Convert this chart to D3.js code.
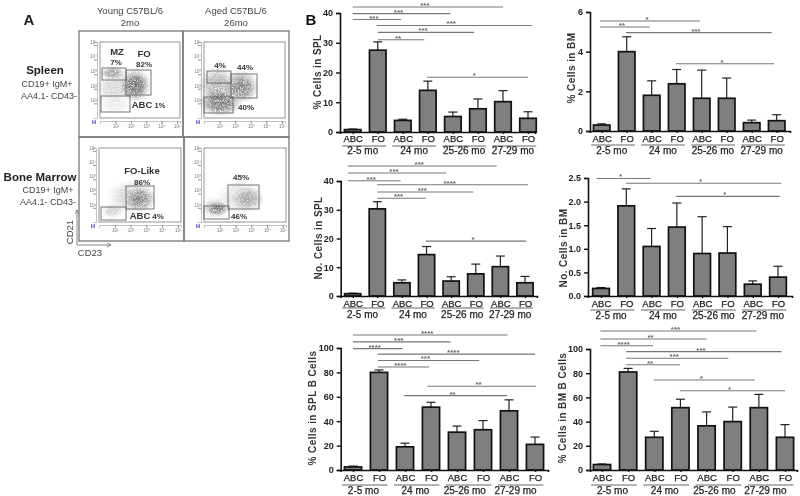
<!DOCTYPE html>
<html>
<head>
<meta charset="utf-8">
<script src="https://d3js.org/d3.v7.min.js"></script>
<style>
  html, body { margin: 0; padding: 0; background: #fff; }
  svg { display: block; filter: blur(0.5px); font-family: "Liberation Sans", Arial, sans-serif; }
</style>
</head>
<body>
<svg id="figure" width="800" height="496"></svg>
<script>
// bar data
var cellTypes = ["ABC", "FO", "ABC", "FO", "ABC", "FO", "ABC", "FO"];
var ageGroups = ["2-5 mo", "24 mo", "25-26 mo", "27-29 mo"];

var pctSpl = [0.8, 27.5, 3.9, 14, 5.2, 7.8, 10.2, 4.6];
var pctSplTop = [1, 30.3, 4.3, 17.1, 6.7, 11.1, 13.9, 6.8];
var pctBm = [0.3, 4, 1.8, 2.38, 1.65, 1.65, 0.42, 0.52];
var pctBmTop = [0.36, 4.75, 2.53, 3.1, 3.07, 2.67, 0.55, 0.82];
var noSpl = [0.8, 30.3, 4.6, 14.4, 5.2, 7.7, 10.2, 4.6];
var noSplTop = [1, 32.8, 5.6, 17.2, 6.7, 11.1, 13.9, 6.8];
var noBm = [0.16, 1.91, 1.05, 1.46, 0.9, 0.91, 0.25, 0.4];
var noBmTop = [0.18, 2.27, 1.43, 1.97, 1.68, 1.47, 0.32, 0.63];
var pctSplB = [2.5, 80, 19, 51.5, 31, 33, 48.5, 21];
var pctSplBTop = [3.2, 82, 22, 55.5, 36, 40.5, 57.5, 27];
var pctBmB = [4.5, 81, 27, 51.5, 36.5, 40, 51.5, 27];
var pctBmBTop = [5, 84, 32, 58.5, 48, 52, 62.5, 37.5];

// significance lines: [from bar, to bar, level in axis units, stars]
var pctSplSig = [[0, 6, 42, "***"], [0, 3.9, 39.8, "***"], [0, 1.93, 37.8, "***"], [0.96, 7.15, 35.8, "***"], [1, 4.85, 33.5, "***"], [1, 2.86, 31, "**"], [2.96, 7, 18.4, "*"]];
var pctBmSig = [[-0.07, 3.93, 5.55, "*"], [-0.07, 1.93, 5.24, "**"], [0.97, 6.8, 4.96, "***"], [2.97, 6.9, 3.39, "*"]];
var noSplSig = [[-0.2, 5.85, 45.2, "***"], [-0.2, 3.8, 42.8, "***"], [-0.2, 1.95, 40.1, "***"], [1, 7.12, 38.7, "****"], [1, 4.9, 36.2, "***"], [1, 2.97, 34, "***"], [2.97, 7.05, 19.1, "*"]];
var noBmSig = [[-0.17, 1.96, 2.49, "*"], [0.99, 7.13, 2.39, "*"], [2.96, 7.07, 2.11, "*"]];
var pctSplBSig = [[0, 5.94, 110.7, "****"], [0, 3.75, 105, "***"], [0, 1.9, 99.5, "****"], [0.95, 7, 95, "****"], [0.95, 4.85, 89.8, "***"], [0.95, 2.93, 84.4, "****"], [2.86, 7.03, 68.6, "**"], [1.96, 5.93, 61, "**"]];
var pctBmBSig = [[-0.06, 5.91, 114.9, "***"], [-0.06, 4, 108.3, "**"], [-0.06, 1.95, 102.7, "****"], [0.93, 6.87, 97.8, "***"], [0.93, 4.83, 92.3, "***"], [0.93, 2.98, 87, "**"], [1.98, 5.85, 74.4, "*"], [2.98, 7, 65.5, "*"]];

// flow plot populations: [x, y, rx, ry, darkness], all as fractions of the plot
var spleenYoung = [[0.19, 0.39, 0.26, 0.2, 0.3], [0.19, 0.17, 0.22, 0.12, 0.14], [0.16, 0.59, 0.17, 0.09, 0.65], [0.44, 0.43, 0.2, 0.22, 1]];
var spleenAged = [[0.17, 0.43, 0.25, 0.26, 0.55], [0.2, 0.2, 0.27, 0.18, 0.95], [0.46, 0.41, 0.22, 0.22, 0.85]];
var marrowYoung = [[0.4, 0.34, 0.32, 0.24, 0.32], [0.5, 0.31, 0.2, 0.17, 0.75], [0.16, 0.15, 0.14, 0.1, 0.35]];
var marrowAged = [[0.44, 0.34, 0.3, 0.24, 0.25], [0.54, 0.31, 0.2, 0.17, 0.5], [0.13, 0.19, 0.2, 0.16, 0.3], [0.16, 0.18, 0.14, 0.1, 0.85]];
var flowTickLabels = ["", "10\u00b9", "10\u00b2", "10\u00b3", "10\u2074", "10\u2075"];

var svg = d3.select("#figure");
var defs = svg.append("defs");

var grad = defs.append("radialGradient").attr("id", "cloud");
grad.append("stop").attr("offset", "0%").attr("stop-color", "#666").attr("stop-opacity", 1);
grad.append("stop").attr("offset", "50%").attr("stop-color", "#707070").attr("stop-opacity", 0.8);
grad.append("stop").attr("offset", "100%").attr("stop-color", "#999").attr("stop-opacity", 0);

// speckle so the clouds look like dots and not smooth blobs
var speckle = defs.append("filter").attr("id", "speckle")
    .attr("x", "-10%").attr("y", "-10%").attr("width", "120%").attr("height", "120%");
speckle.append("feTurbulence").attr("type", "fractalNoise").attr("baseFrequency", 1.4)
    .attr("numOctaves", 2).attr("seed", 4).attr("result", "noise");
speckle.append("feColorMatrix").attr("in", "noise").attr("type", "matrix")
    .attr("values", "0 0 0 0 0  0 0 0 0 0  0 0 0 0 0  0 0 0 2.6 -0.45").attr("result", "dots");
speckle.append("feComposite").attr("in", "SourceGraphic").attr("in2", "dots").attr("operator", "in");

function plotText(g, txt, x, y, size, weight, anchor, color) {
  return g.append("text").attr("x", x).attr("y", y)
      .attr("font-size", size).attr("font-weight", weight || "normal")
      .attr("text-anchor", anchor || "middle").attr("fill", color || "#333").text(txt);
}

// ---------- panel A ----------
var panelA = svg.append("g");

plotText(panelA, "A", 29, 25, 15, "bold", "middle", "#222");
plotText(panelA, "Young C57BL/6", 130, 14, 9.5, "normal", "middle", "#444");
plotText(panelA, "2mo", 130, 26, 9.5, "normal", "middle", "#444");
plotText(panelA, "Aged C57BL/6", 236, 14, 9.5, "normal", "middle", "#444");
plotText(panelA, "26mo", 236, 26, 9.5, "normal", "middle", "#444");

plotText(panelA, "Spleen", 45, 74, 11.5, "bold", "middle", "#222");
plotText(panelA, "CD19+ IgM+", 47, 87, 9, "normal", "middle", "#444");
plotText(panelA, "AA4.1- CD43-", 49, 99, 9, "normal", "middle", "#444");
plotText(panelA, "Bone Marrow", 40, 181, 11.5, "bold", "middle", "#222");
plotText(panelA, "CD19+ IgM+", 48, 193, 9, "normal", "middle", "#444");
plotText(panelA, "AA4.1- CD43-", 48, 205, 9, "normal", "middle", "#444");

// outer frames
[[79, 31, 104, 106], [183, 31, 106, 106], [79, 137, 105, 104], [184, 137, 105, 104]].forEach(function(f) {
  panelA.append("rect").attr("x", f[0]).attr("y", f[1]).attr("width", f[2]).attr("height", f[3])
      .attr("fill", "none").attr("stroke", "#777").attr("stroke-width", 1.3);
});

function flowPlot(box, blobs, gates, labels) {
  var g = panelA.append("g");
  var fx = d3.scaleLinear().domain([0, 1]).range([box[0], box[2]]);
  var fy = d3.scaleLinear().domain([0, 1]).range([box[3], box[1]]);
  var lx = d3.scaleLinear().domain([0, 5.2]).range([box[0], box[2]]);
  var ly = d3.scaleLinear().domain([0, 5.2]).range([box[3], box[1]]);

  g.append("g").attr("filter", "url(#speckle)")
    .selectAll("ellipse")
    .data(blobs)
    .enter().append("ellipse")
      .attr("cx", function(d) { return fx(d[0]); })
      .attr("cy", function(d) { return fy(d[1]); })
      .attr("rx", function(d) { return fx(d[2]) - fx(0); })
      .attr("ry", function(d) { return fy(0) - fy(d[3]); })
      .attr("fill", "url(#cloud)")
      .attr("opacity", function(d) { return d[4]; });

  g.append("rect").attr("x", box[0]).attr("y", box[1])
      .attr("width", box[2] - box[0]).attr("height", box[3] - box[1])
      .attr("fill", "none").attr("stroke", "#888").attr("stroke-width", 0.9);

  g.selectAll(".gate")
    .data(gates)
    .enter().append("rect")
      .attr("x", function(d) { return d[0]; }).attr("y", function(d) { return d[1]; })
      .attr("width", function(d) { return d[2] - d[0]; }).attr("height", function(d) { return d[3] - d[1]; })
      .attr("fill", "none").attr("stroke", "#666").attr("stroke-width", 0.9);

  var left = g.append("g").attr("transform", "translate(" + (box[0] - 3) + ",0)")
      .call(d3.axisLeft(ly).tickValues([1, 2, 3, 4, 5]).tickSize(3).tickFormat(function(d) { return flowTickLabels[d]; }));
  var bottom = g.append("g").attr("transform", "translate(0," + (box[3] + 3) + ")")
      .call(d3.axisBottom(lx).tickValues([1, 2, 3, 4, 5]).tickSize(3).tickFormat(function(d) { return flowTickLabels[d]; }));
  [left, bottom].forEach(function(a) {
    a.selectAll("path").attr("stroke", "#999").attr("stroke-width", 0.6);
    a.selectAll("line").attr("stroke", "#777").attr("stroke-width", 0.8);
    a.selectAll("text").attr("font-size", 4.5).attr("fill", "#777").attr("font-family", "Liberation Sans");
  });
  left.selectAll("text").attr("x", -2).attr("transform", "translate(2,-3)");
  bottom.selectAll("text").attr("y", 4);

  // little blue corner mark of the gating software
  g.append("text").attr("x", box[0] - 6).attr("y", box[3] + 5.5).attr("font-size", 5.5)
      .attr("font-weight", "bold").attr("fill", "#2a2ac0").attr("text-anchor", "middle").text("H");

  labels.forEach(function(l) {
    plotText(g, l[0], l[1], l[2], l[3], l[4], "middle", "#333");
  });
}

flowPlot([100, 42, 180, 118], spleenYoung,
  [[102, 68, 126, 80], [126, 70, 151, 95], [101, 96, 130, 112]],
  [["MZ", 117, 55, 9.5, "bold"], ["7%", 116, 65, 8, "bold"], ["FO", 144, 57, 9.5, "bold"], ["82%", 144, 67, 8, "bold"],
   ["ABC", 142, 108, 9.5, "bold"], ["1%", 160, 108, 7.5, "bold"]]);
flowPlot([204, 42, 285, 118], spleenAged,
  [[207, 71, 231, 83], [231, 74, 257, 98], [204, 97, 233, 113]],
  [["4%", 220, 68, 8, "bold"], ["44%", 245, 70, 8, "bold"], ["40%", 246, 110, 8, "bold"]]);
flowPlot([99, 148, 181, 222], marrowYoung,
  [[126, 186, 154, 209], [101, 207, 126, 220]],
  [["FO-Like", 142, 174, 9.5, "bold"], ["86%", 142, 185, 8, "bold"], ["ABC", 140, 219, 9.5, "bold"], ["4%", 158, 219, 8, "bold"]]);
flowPlot([204, 148, 286, 222], marrowAged,
  [[228, 185, 259, 209], [204, 206, 229, 219]],
  [["45%", 241, 180, 8, "bold"], ["46%", 239, 219, 8, "bold"]]);

// CD21 / CD23 arrows
defs.append("marker").attr("id", "tip").attr("markerWidth", 5).attr("markerHeight", 5)
    .attr("refX", 4).attr("refY", 2.5).attr("orient", "auto")
  .append("path").attr("d", "M0,0.5L4,2.5L0,4.5").attr("fill", "none").attr("stroke", "#777").attr("stroke-width", 0.8);
panelA.append("path").attr("d", "M77,245V210").attr("stroke", "#888").attr("marker-end", "url(#tip)");
panelA.append("path").attr("d", "M77,245H111").attr("stroke", "#888").attr("marker-end", "url(#tip)");
plotText(panelA, "CD23", 90, 256, 9.5, "normal", "middle", "#444");
plotText(panelA, "CD21", 0, 0, 9.5, "normal", "middle", "#444")
    .attr("transform", "translate(73,232) rotate(-90)");

// ---------- panel B ----------
plotText(svg, "B", 311, 25, 15, "bold", "middle", "#111");

function barPanel(p) {
  var g = svg.append("g");
  var y = d3.scaleLinear().domain([0, p.max]).range([p.bottom, p.top]);
  var x = d3.scaleLinear().domain([0, 7]).range([p.x0, p.x7]);

  // significance lines
  var sig = g.append("g").selectAll("g")
    .data(p.sig)
    .enter().append("g");
  sig.append("line")
      .attr("x1", function(d) { return x(d[0]); })
      .attr("x2", function(d) { return x(d[1]); })
      .attr("y1", function(d) { return y(d[2]); })
      .attr("y2", function(d) { return y(d[2]); })
      .attr("stroke", "#777").attr("stroke-width", 1.1);
  sig.append("text")
      .attr("x", function(d) { return (x(d[0]) + x(d[1])) / 2 - 3; })
      .attr("y", function(d) { return y(d[2]) + 1; })
      .attr("text-anchor", "middle").attr("font-size", 8).attr("font-weight", "bold").attr("fill", "#666")
      .text(function(d) { return d[3]; });

  // error bars, upper half only
  var err = g.append("g").selectAll("g")
    .data(p.values)
    .enter().append("g")
      .attr("stroke", "#222").attr("stroke-width", 1.2);
  err.append("line")
      .attr("x1", function(d, i) { return x(i); })
      .attr("x2", function(d, i) { return x(i); })
      .attr("y1", function(d) { return y(d); })
      .attr("y2", function(d, i) { return y(p.tops[i]); });
  err.append("line")
      .attr("x1", function(d, i) { return x(i) - 4.5; })
      .attr("x2", function(d, i) { return x(i) + 4.5; })
      .attr("y1", function(d, i) { return y(p.tops[i]); })
      .attr("y2", function(d, i) { return y(p.tops[i]); });

  var barW = (x(1) - x(0)) * 0.66;
  g.append("g").selectAll("rect")
    .data(p.values)
    .enter().append("rect")
      .attr("x", function(d, i) { return x(i) - barW / 2; })
      .attr("width", barW)
      .attr("y", function(d) { return y(d); })
      .attr("height", function(d) { return y(0) - y(d); })
      .attr("fill", "#7f7f7f").attr("stroke", "#111").attr("stroke-width", 1.7);

  // axes
  var yAxis = g.append("g").attr("transform", "translate(" + p.left + ",0)")
      .call(d3.axisLeft(y).tickValues(p.ticks).tickSize(4).tickFormat(p.format));
  var xAxis = g.append("g").attr("transform", "translate(0," + p.bottom + ")")
      .call(d3.axisBottom(d3.scaleLinear().domain([p.left, p.right]).range([p.left, p.right]))
          .tickValues(d3.range(8).map(function(i) { return x(i); })).tickSize(2)
          .tickFormat(function(d, i) { return cellTypes[i]; }));
  [yAxis, xAxis].forEach(function(a) {
    a.selectAll("path").attr("stroke", "#111").attr("stroke-width", 1.6);
    a.selectAll("line").attr("stroke", "#111").attr("stroke-width", 1.4);
    a.selectAll("text").attr("font-family", "Liberation Sans").attr("fill", "#222").attr("font-weight", "bold");
  });
  yAxis.selectAll("text").attr("font-size", 9);
  xAxis.selectAll("text").attr("font-size", 9.5).attr("font-weight", "normal").attr("y", p.abcY - p.bottom - 7.5)
      .attr("stroke", "#222").attr("stroke-width", 0.25);

  // age groups
  [[0, 1], [2, 3], [4, 5], [6, 7]].forEach(function(pair, i) {
    g.append("line")
        .attr("x1", x(pair[0]) - 0.42 * (x(1) - x(0)))
        .attr("x2", x(pair[1]) + 0.33 * (x(1) - x(0)))
        .attr("y1", p.lineY).attr("y2", p.lineY)
        .attr("stroke", "#666").attr("stroke-width", 1);
    plotText(g, ageGroups[i], x(p.groupPos[i]), p.groupY, 10, "normal", "middle", "#222")
        .attr("stroke", "#222").attr("stroke-width", 0.25);
  });

  plotText(g, p.label, 0, 0, 10, "bold", "middle", "#333")
      .attr("letter-spacing", 0.4)
      .attr("transform", "translate(" + p.labelX + "," + p.labelY + ") rotate(-90)");
}

var f1 = function(d) { return d3.format(".1f")(d); };
var f0 = function(d) { return d; };
var groupsTop = [0.4, 2.45, 4.45, 6.4];
var groupsWide = [0.4, 2.4, 4.3, 6.25];

barPanel({ values: pctSpl, tops: pctSplTop, sig: pctSplSig, max: 40, ticks: [0, 10, 20, 30, 40], format: f0, label: "% Cells in SPL",
  left: 340, right: 535, top: 13, bottom: 132, x0: 352.7, x7: 528, abcY: 143, lineY: 146, groupY: 154, groupPos: groupsTop, labelX: 321, labelY: 72 });
barPanel({ values: pctBm, tops: pctBmTop, sig: pctBmSig, max: 6, ticks: [0, 2, 4, 6], format: f0, label: "% Cells in BM",
  left: 590, right: 790, top: 12, bottom: 131, x0: 601.7, x7: 776.7, abcY: 143, lineY: 145, groupY: 154, groupPos: groupsTop, labelX: 575, labelY: 68 });
barPanel({ values: noSpl, tops: noSplTop, sig: noSplSig, max: 40, ticks: [0, 10, 20, 30, 40], format: f0, label: "No. Cells in SPL",
  left: 340.7, right: 537, top: 181, bottom: 296, x0: 352.7, x7: 525, abcY: 308, lineY: 308, groupY: 318, groupPos: groupsTop, labelX: 322, labelY: 238 });
barPanel({ values: noBm, tops: noBmTop, sig: noBmSig, max: 2.5, ticks: [0, 0.5, 1, 1.5, 2, 2.5], format: f1, label: "No. Cells in BM",
  left: 588, right: 792, top: 178, bottom: 296, x0: 601, x7: 778, abcY: 308, lineY: 310, groupY: 319, groupPos: groupsTop, labelX: 567, labelY: 248 });
barPanel({ values: pctSplB, tops: pctSplBTop, sig: pctSplBSig, max: 100, ticks: [0, 20, 40, 60, 80, 100], format: f0, label: "% Cells in SPL B Cells",
  left: 340.7, right: 548, top: 348, bottom: 470, x0: 353, x7: 535, abcY: 482, lineY: 485, groupY: 494, groupPos: groupsWide, labelX: 316, labelY: 408 });
barPanel({ values: pctBmB, tops: pctBmBTop, sig: pctBmBSig, max: 100, ticks: [0, 20, 40, 60, 80, 100], format: f0, label: "% Cells in BM B Cells",
  left: 590, right: 797, top: 349, bottom: 470, x0: 602, x7: 785, abcY: 482, lineY: 485, groupY: 494, groupPos: groupsWide, labelX: 566, labelY: 408 });
</script>
</body>
</html>
